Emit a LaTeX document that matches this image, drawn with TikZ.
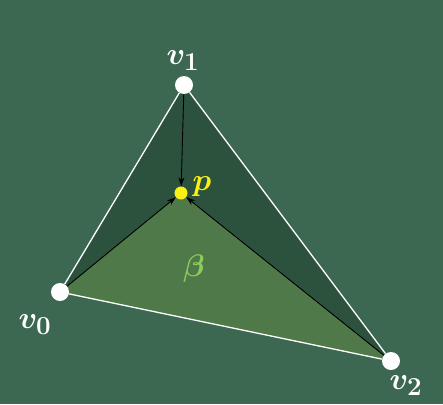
\documentclass[tikz,border=0pt]{standalone}
\usepackage{graphicx}
\usepackage{amsmath,bm}
\usetikzlibrary{arrows.meta}

\definecolor{board}{RGB}{60,103,80}
\definecolor{darkface}{RGB}{44,82,61}
\definecolor{betaface}{RGB}{80,121,73}
\definecolor{betatext}{RGB}{140,204,90}
\definecolor{pyellow}{RGB}{250,240,20}

\newcommand{\biglabel}[1]{\scalebox{1.25}{\fontsize{24.88}{28}\selectfont$#1$}}

\tikzset{
  vertex/.style={circle,fill=white,inner sep=0pt,minimum size=18pt},
  pdot/.style={circle,fill=pyellow,inner sep=0pt,minimum size=13pt},
  vlabel/.style={text=white},
  edge/.style={white,line width=1.3pt},
  pull/.style={black,line width=0.9pt,-{Stealth[length=9pt,width=6pt]}}
}

\begin{document}
\begin{tikzpicture}[x=1pt,y=-1pt]
  \fill[board] (0,0) rectangle (443,404);
  \useasboundingbox (0,0) rectangle (443,404);

  \fill[darkface] (60,292) -- (184,85) -- (391,361) -- cycle;
  \fill[betaface] (60,292) -- (181,193) -- (391,361) -- cycle;

  \node[vertex] (v0)	at (60,292)	{};
  \node[vertex] (v1)	at (184,85)	{};
  \node[vertex] (v2)	at (391,361)	{};
  \node[pdot] (p)	at (181,193)	{};

  \draw[edge] (v0) -- (v1);
  \draw[edge] (v1) -- (v2);
  \draw[edge] (v0) -- (v2);

  \draw[pull] (v1) -- (p);
  \draw[pull] (v0) -- (p);
  \draw[pull] (v2) -- (p);

  \node[vlabel] (v1-label)	at (183,61)	{\biglabel{\bm{v}_{\mathbf{1}}}};
  \node[vlabel] (v0-label)	at (35,325)	{\biglabel{\bm{v}_{\mathbf{0}}}};
  \node[vlabel] (v2-label)	at (406,386)	{\biglabel{\bm{v}_{\mathbf{2}}}};
  \node[text=pyellow] (p-label)	at (202,187)	{\biglabel{\bm{p}}};
  \node[text=betatext] (beta-label)	at (194,269)	{\biglabel{\bm{\beta}}};
\end{tikzpicture}
\end{document}
